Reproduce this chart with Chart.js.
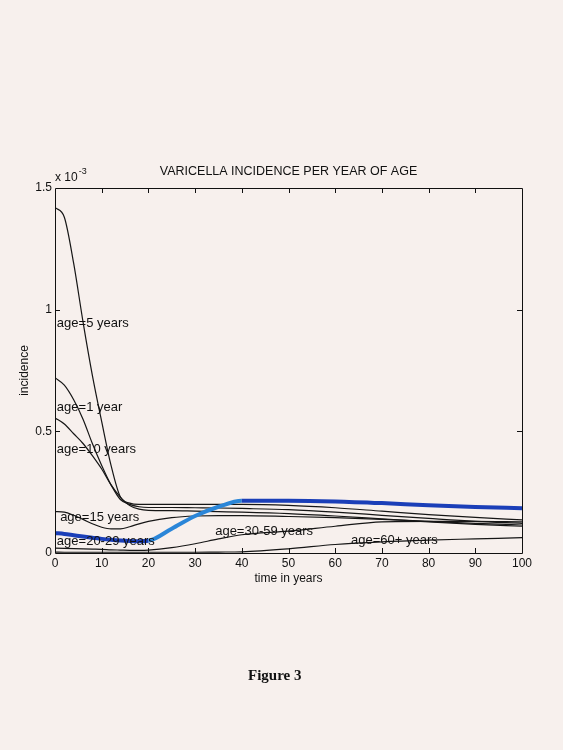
<!DOCTYPE html>
<html>
<head>
<meta charset="utf-8">
<script src="https://cdn.jsdelivr.net/npm/chart.js@4.4.1/dist/chart.umd.min.js"></script>
<style>
    html, body { margin: 0; padding: 0; background: #f7f0ed; }
    #wrap { position: relative; width: 563px; height: 750px; }
    #figcap { position: absolute; left: 248px; top: 667px; font: bold 15px "Liberation Serif", serif; color: #111; }
</style>
</head>
<body>
<div id="wrap">
    <canvas id="chart" width="563" height="750"></canvas>
    <div id="figcap">Figure 3</div>
</div>
<script>
// time in years (x axis), incidence in units of 1e-3 (y axis)
const times   = [0, 2, 4, 6, 8, 10, 12, 14, 16, 18, 20, 25, 30, 35, 40, 50, 60, 70, 80, 90, 100];
const age1    = [0.72, 0.69, 0.63, 0.55, 0.45, 0.36, 0.28, 0.22, 0.20, 0.19, 0.187, 0.187, 0.186, 0.185, 0.183, 0.178, 0.168, 0.155, 0.142, 0.130, 0.122];
const age5    = [1.42, 1.38, 1.19, 0.95, 0.73, 0.54, 0.36, 0.23, 0.205, 0.20, 0.20, 0.20, 0.20, 0.20, 0.20, 0.196, 0.186, 0.172, 0.158, 0.146, 0.136];
const age10   = [0.555, 0.53, 0.49, 0.45, 0.40, 0.345, 0.28, 0.23, 0.195, 0.18, 0.175, 0.174, 0.172, 0.170, 0.168, 0.162, 0.152, 0.140, 0.128, 0.118, 0.110];
const age15   = [0.17, 0.168, 0.155, 0.138, 0.12, 0.106, 0.099, 0.099, 0.108, 0.12, 0.13, 0.145, 0.152, 0.154, 0.154, 0.150, 0.145, 0.138, 0.130, 0.122, 0.115];
const age2029 = [0.082, 0.078, 0.073, 0.068, 0.063, 0.058, 0.054, 0.051, 0.049, 0.048, 0.05, 0.10, 0.152, 0.19, 0.215, 0.215, 0.212, 0.205, 0.196, 0.189, 0.184];
const age3059 = [0.02, 0.019, 0.018, 0.017, 0.016, 0.015, 0.013, 0.012, 0.011, 0.011, 0.012, 0.022, 0.038, 0.058, 0.075, 0.090, 0.110, 0.128, 0.130, 0.130, 0.128];
const age60   = [0.004, 0.003, 0.003, 0.003, 0.003, 0.003, 0.003, 0.003, 0.003, 0.003, 0.003, 0.003, 0.003, 0.004, 0.005, 0.017, 0.035, 0.046, 0.053, 0.058, 0.063];

const xTicks = [0, 10, 20, 30, 40, 50, 60, 70, 80, 90, 100];
const yTicks = [0, 0.5, 1, 1.5];

// text labels written next to the curves (anchored in data units)
const curveLabels = [
    { text: "age=5 years", x: 0.4, y: 0.943 },
    { text: "age=1 year", x: 0.4, y: 0.6 },
    { text: "age=10 years", x: 0.4, y: 0.425 },
    { text: "age=15 years", x: 1.1, y: 0.146 },
    { text: "age=20-29 years", x: 0.4, y: 0.046 },
    { text: "age=30-59 years", x: 34.3, y: 0.09 },
    { text: "age=60+ years", x: 63.4, y: 0.05 },
];

const FONT = '"Liberation Sans", Arial, sans-serif';

function toPoints(values) {
    return times.map((t, i) => ({ x: t, y: values[i] }));
}

function blackLine(values) {
    return {
        data: toPoints(values),
        borderColor: "#161616",
        borderWidth: 1.2,
        order: 1,
    };
}

const decorations = {
    id: "decorations",
    afterDatasetsDraw(chart) {
        const { ctx, chartArea: a, scales } = chart;
        const x = scales.x, y = scales.y;
        ctx.save();

        // axes box with inward ticks on all four sides
        ctx.strokeStyle = "#111";
        ctx.lineWidth = 1;
        ctx.beginPath();
        ctx.rect(Math.round(a.left) + 0.5, Math.round(a.top) + 0.5,
            Math.round(a.right - a.left), Math.round(a.bottom - a.top));
        xTicks.slice(1, -1).forEach((v) => {
            const px = Math.round(x.getPixelForValue(v)) + 0.5;
            ctx.moveTo(px, a.bottom); ctx.lineTo(px, a.bottom - 5);
            ctx.moveTo(px, a.top); ctx.lineTo(px, a.top + 5);
        });
        yTicks.slice(1, -1).forEach((v) => {
            const py = Math.round(y.getPixelForValue(v)) + 0.5;
            ctx.moveTo(a.left, py); ctx.lineTo(a.left + 5, py);
            ctx.moveTo(a.right, py); ctx.lineTo(a.right - 5, py);
        });
        ctx.stroke();

        ctx.fillStyle = "#111";
        ctx.textBaseline = "middle";

        // curve labels
        ctx.font = "13px " + FONT;
        ctx.textAlign = "left";
        curveLabels.forEach((l) => {
            ctx.fillText(l.text, x.getPixelForValue(l.x), y.getPixelForValue(l.y));
        });

        // title
        ctx.font = "12.5px " + FONT;
        ctx.textAlign = "center";
        ctx.fillText("VARICELLA INCIDENCE PER YEAR OF AGE", (a.left + a.right) / 2, a.top - 16);

        // axis titles
        ctx.font = "12px " + FONT;
        ctx.fillText("time in years", (a.left + a.right) / 2, a.bottom + 26);
        ctx.save();
        ctx.translate(25, (a.top + a.bottom) / 2);
        ctx.rotate(-Math.PI / 2);
        ctx.fillText("incidence", 0, 0);
        ctx.restore();

        // exponent
        ctx.textAlign = "left";
        ctx.font = "12px " + FONT;
        ctx.fillText("x 10", a.left, a.top - 10);
        const w = ctx.measureText("x 10").width;
        ctx.font = "9px " + FONT;
        ctx.fillText("-3", a.left + w + 1, a.top - 16);

        ctx.restore();
    },
};

const blue = {
    data: toPoints(age2029),
    borderWidth: 4,
    borderColor: "#1b3fb8",
    order: 0,
    segment: {
        borderColor: (c) =>
            c.p0.parsed.x >= 20 && c.p1.parsed.x <= 40 ? "#2b86d8" : "#1b3fb8",
    },
};

new Chart(document.getElementById("chart"), {
    type: "line",
    data: {
        datasets: [
            blue,
            blackLine(age1),
            blackLine(age5),
            blackLine(age10),
            blackLine(age15),
            blackLine(age3059),
            blackLine(age60),
        ],
    },
    options: {
        responsive: false,
        animation: false,
        layout: { padding: { left: 0, right: 41, top: 188, bottom: 0 } },
        elements: {
            point: { radius: 0 },
            line: { cubicInterpolationMode: "monotone" },
        },
        plugins: {
            legend: { display: false },
            tooltip: { enabled: false },
        },
        scales: {
            x: {
                type: "linear",
                min: 0,
                max: 100,
                afterBuildTicks: (s) => { s.ticks = xTicks.map((v) => ({ value: v })); },
                afterFit: (s) => { s.height = 197; },
                ticks: { color: "#111", padding: 3, maxRotation: 0, font: { family: FONT, size: 12 } },
                grid: { display: false, drawTicks: false },
                border: { display: false },
            },
            y: {
                min: 0,
                max: 1.5,
                afterBuildTicks: (s) => { s.ticks = yTicks.map((v) => ({ value: v })); },
                afterFit: (s) => { s.width = 55; },
                ticks: {
                    color: "#111",
                    padding: 3,
                    font: { family: FONT, size: 12 },
                    callback: (v) => String(v),
                },
                grid: { display: false, drawTicks: false },
                border: { display: false },
            },
        },
    },
    plugins: [decorations],
});
</script>
</body>
</html>
